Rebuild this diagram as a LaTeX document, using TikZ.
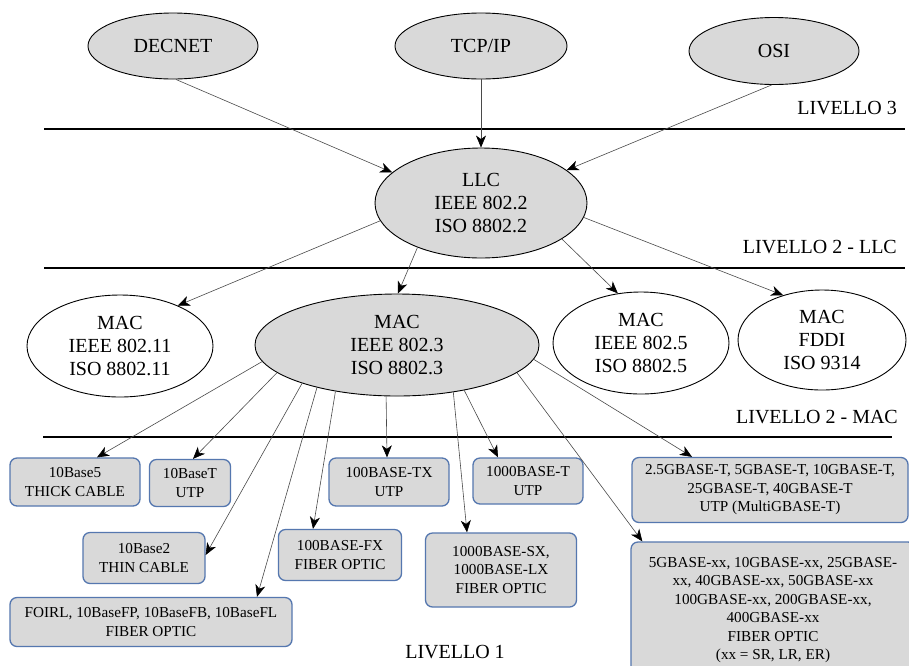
\documentclass[tikz,border=0pt]{standalone}
\usepackage{fontspec}
\setmainfont{Liberation Serif}
\usetikzlibrary{shapes.geometric,arrows.meta}
\definecolor{nodegray}{HTML}{D9D9D9}
\definecolor{boxblue}{HTML}{5577AF}
\definecolor{edgegray}{HTML}{4A4A4A}
\begin{document}
\begin{tikzpicture}[x=1pt,y=-1pt,
  proto/.style={ellipse,draw=black,line width=0.9pt,fill=nodegray,inner sep=0pt,
    align=center,font=\fontsize{20}{23}\selectfont},
  macw/.style={ellipse,draw=black,line width=0.9pt,fill=white,inner sep=0pt,
    align=center,font=\fontsize{20}{23}\selectfont},
  phy/.style={rectangle,rounded corners=7pt,draw=boxblue,line width=1.3pt,fill=nodegray,
    inner sep=0pt,align=center,font=\fontsize{15.2}{18.5}\selectfont},
  levelline/.style={draw=black,line width=1.2pt},
  levellabel/.style={anchor=east,inner sep=0pt,font=\fontsize{20}{23}\selectfont},
  link/.style={draw=edgegray,line width=0.6pt,-{Stealth[length=12pt,width=10pt,inset=3.5pt,color=black]}}]
\clip (0,0) rectangle (909,665);
\fill[white] (0,0) rectangle (909,665);

% level separators
\coordinate (l1a) at (44,129);  \coordinate (l1b) at (905,129);
\coordinate (l2a) at (44,268);  \coordinate (l2b) at (905,268);
\coordinate (l3a) at (43,437);  \coordinate (l3b) at (892,437);
\draw[levelline] (l1a) -- (l1b);
\draw[levelline] (l2a) -- (l2b);
\draw[levelline] (l3a) -- (l3b);

\node[levellabel] (lv3) at (897,108) {LIVELLO 3};
\node[levellabel] (lv2llc) at (897,247) {LIVELLO 2 - LLC};
\node[levellabel] (lv2mac) at (898,417) {LIVELLO 2 - MAC};
\node[inner sep=0pt,font=\fontsize{20}{23}\selectfont] (lv1) at (455,652) {LIVELLO 1};

% level 3 protocols
\node[proto,minimum width=170pt,minimum height=66pt] (decnet) at (173,46) {DECNET};
\node[proto,minimum width=172pt,minimum height=66pt] (tcpip) at (481,46) {TCP/IP};
\node[proto,minimum width=170pt,minimum height=67pt] (osi) at (774,51) {OSI};

% level 2 - LLC
\node[proto,minimum width=212pt,minimum height=110pt] (llc) at (481,203)
  {LLC\\IEEE 802.2\\ISO 8802.2};

% level 2 - MAC
\node[macw,minimum width=186pt,minimum height=102pt] (mac11) at (120,346)
  {MAC\\IEEE 802.11\\ISO 8802.11};
\node[proto,minimum width=284pt,minimum height=102pt] (mac3) at (397,345)
  {MAC\\IEEE 802.3\\ISO 8802.3};
\node[macw,minimum width=176pt,minimum height=102pt] (mac5) at (641,343)
  {MAC\\IEEE 802.5\\ISO 8802.5};
\node[macw,minimum width=168pt,minimum height=100pt] (fddi) at (822,340)
  {MAC\\FDDI\\ISO 9314};

% level 1 media
\node[phy,minimum width=130pt,minimum height=48pt] (b5) at (75,482) {10Base5\\THICK CABLE};
\node[phy,minimum width=81pt,minimum height=47pt] (bt) at (190,483) {10BaseT\\UTP};
\node[phy,minimum width=122pt,minimum height=51pt] (b2) at (144,558) {10Base2\\THIN CABLE};
\node[phy,minimum width=282pt,minimum height=49pt] (foirl) at (151,622)
  {FOIRL, 10BaseFP, 10BaseFB, 10BaseFL\\FIBER OPTIC};
\node[phy,minimum width=123pt,minimum height=51pt] (fx) at (340,555) {100BASE-FX\\FIBER OPTIC};
\node[phy,minimum width=120pt,minimum height=48pt] (tx) at (389,482) {100BASE-TX\\UTP};
\node[phy,minimum width=110pt,minimum height=46pt] (gt) at (528,481) {1000BASE-T\\UTP};
\node[phy,minimum width=151pt,minimum height=74pt] (sx) at (501,570)
  {1000BASE-SX,\\1000BASE-LX\\FIBER OPTIC};
\node[phy,minimum width=276pt,minimum height=65pt] (mg) at (770,490)
  {2.5GBASE-T, 5GBASE-T, 10GBASE-T,\\25GBASE-T, 40GBASE-T\\UTP (MultiGBASE-T)};
\node[phy,minimum width=284pt,minimum height=136pt] (gx) at (773,610)
  {5GBASE-xx, 10GBASE-xx, 25GBASE-\\xx, 40GBASE-xx, 50GBASE-xx\\100GBASE-xx, 200GBASE-xx,\\400GBASE-xx\\FIBER OPTIC\\(xx = SR, LR, ER)};

% level 3 -> LLC
\draw[link] (decnet.275) -- (llc.161.7);
\draw[link] (tcpip.south) -- (llc.north);
\draw[link] (osi.266) -- (llc.21.2);

% LLC -> MAC
\draw[link] (llc.190) -- (mac11.35);
\draw[link] (llc.215.5) -- (mac3.89);
\draw[link] (llc.336.1) -- (mac5.115.6);
\draw[link] (llc.352) -- (fddi.131.6);

% MAC 802.3 -> physical media
\draw[link] (mac3.187.1) -- ([xshift=22pt]b5.north);
\draw[link] (mac3.193.7) -- ([xshift=3pt]bt.north);
\draw[link] (mac3.202.7) -- ([yshift=3pt]b2.east);
\draw[link] (mac3.208) -- ([xshift=106pt]foirl.north);
\draw[link] (mac3.217.9) -- ([xshift=-27pt]fx.north);
\draw[link] (mac3.258.7) -- ([xshift=-2pt]tx.north);
\draw[link] (mac3.320.4) -- ([xshift=-34pt]sx.north);
\draw[link] (mac3.326.5) -- ([xshift=-30pt]gt.north);
\draw[link] (mac3.347.6) -- ([xshift=12pt]gx.north west);
\draw[link] (mac3.354.7) -- ([xshift=-78pt]mg.north);
\end{tikzpicture}
\end{document}
